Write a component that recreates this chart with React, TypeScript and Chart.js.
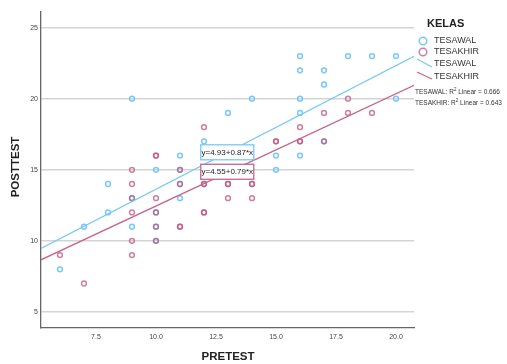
import React, { useEffect, useRef } from "react";
import { Chart, registerables } from "chart.js";

Chart.register(...registerables);

// TESAWAL (blue)
const tesawalPre = [6, 7, 8, 8, 9, 9, 9, 10, 10, 10, 10, 11, 11, 11, 11, 12, 13, 14, 15, 15, 16, 16, 16, 16, 16, 17, 17, 17, 18, 19, 20, 20];
const tesawalPost = [8, 11, 12, 14, 11, 13, 20, 10, 11, 12, 15, 13, 14, 15, 16, 17, 19, 20, 15, 16, 16, 19, 20, 22, 23, 17, 21, 22, 23, 23, 20, 23];
// TESAKHIR (pink)
const tesakhirPre = [6, 7, 9, 9, 9, 9, 9, 9, 10, 10, 10, 10, 10, 10, 11, 11, 11, 11, 12, 12, 12, 12, 12, 13, 13, 13, 14, 14, 14, 15, 15, 16, 16, 16, 17, 17, 18, 18, 19];
const tesakhirPost = [9, 7, 9, 10, 12, 13, 14, 15, 10, 11, 12, 13, 16, 16, 11, 11, 14, 15, 12, 12, 14, 14, 18, 13, 14, 14, 13, 14, 14, 17, 17, 17, 17, 18, 17, 19, 19, 20, 19];

// regression fits [intercept, slope]
const fitAwal = [4.93, 0.87];
const fitAkhir = [4.55, 0.79];
const r2Awal = "0.666";
const r2Akhir = "0.643";

const xTicks = [7.5, 10, 12.5, 15, 17.5, 20];
const yTicks = [5, 10, 15, 20, 25];
const X_MIN = 5.21;
const X_MAX = 20.75;
const Y_MIN = 3.87;
const Y_MAX = 26.1;

const BLUE = "rgba(105,195,245,0.9)";
const PINK = "rgba(190,85,130,0.75)";
const BLUE_LINE = "rgb(120,200,245)";
const PINK_LINE = "rgb(200,100,140)";
const FONT = "'Liberation Sans', Arial, sans-serif";

const toPts = (xs: number[], ys: number[]) => xs.map((x, i) => ({ x, y: ys[i] }));
const fitLine = (f: number[]) => [
  { x: X_MIN, y: f[0] + f[1] * X_MIN },
  { x: X_MAX, y: f[0] + f[1] * X_MAX },
];

const overlay = {
  id: "overlay",
  afterDraw(chart: any) {
    const ctx = chart.ctx as CanvasRenderingContext2D;
    const xs = chart.scales.x;
    const ys = chart.scales.y;
    const ca = chart.chartArea;
    ctx.save();
    // equation boxes
    const box = (txt: string, dx: number, dy: number, col: string) => {
      const cx = xs.getPixelForValue(dx);
      const cy = ys.getPixelForValue(dy);
      ctx.font = `8px ${FONT}`;
      const w = 53;
      const h = 15;
      ctx.fillStyle = "#fff";
      ctx.fillRect(cx - w / 2, cy - h / 2, w, h);
      ctx.strokeStyle = col;
      ctx.lineWidth = 1.3;
      ctx.strokeRect(cx - w / 2, cy - h / 2, w, h);
      ctx.fillStyle = "#222";
      ctx.textAlign = "center";
      ctx.textBaseline = "middle";
      ctx.fillText(txt, cx, cy + 0.5);
    };
    box(`y=${fitAwal[0]}+${fitAwal[1]}*x`, 12.97, 16.23, BLUE_LINE);
    box(`y=${fitAkhir[0]}+${fitAkhir[1]}*x`, 12.97, 14.86, PINK_LINE);

    // axis titles
    ctx.fillStyle = "#222";
    ctx.font = `bold 11.5px ${FONT}`;
    ctx.textAlign = "center";
    ctx.textBaseline = "middle";
    ctx.fillText("PRETEST", 228, 357);
    ctx.save();
    ctx.translate(16, 167);
    ctx.rotate(-Math.PI / 2);
    ctx.fillText("POSTTEST", 0, 0);
    ctx.restore();

    // legend
    const lx = ca.right + 9;
    ctx.textAlign = "left";
    ctx.font = `bold 11px ${FONT}`;
    ctx.fillText("KELAS", lx + 4, 24);
    ctx.font = `9px ${FONT}`;
    ctx.fillStyle = "#333";
    ctx.lineWidth = 1.5;
    ctx.strokeStyle = BLUE;
    ctx.beginPath();
    ctx.arc(lx, 41, 3.8, 0, Math.PI * 2);
    ctx.stroke();
    ctx.fillText("TESAWAL", lx + 11, 41);
    ctx.strokeStyle = PINK;
    ctx.beginPath();
    ctx.arc(lx, 52, 3.8, 0, Math.PI * 2);
    ctx.stroke();
    ctx.fillText("TESAKHIR", lx + 11, 52);
    ctx.lineWidth = 1.3;
    ctx.strokeStyle = BLUE_LINE;
    ctx.beginPath();
    ctx.moveTo(lx - 6, 59);
    ctx.lineTo(lx + 9, 67);
    ctx.stroke();
    ctx.fillText("TESAWAL", lx + 11, 64);
    ctx.strokeStyle = PINK_LINE;
    ctx.beginPath();
    ctx.moveTo(lx - 6, 72);
    ctx.lineTo(lx + 9, 79);
    ctx.stroke();
    ctx.fillText("TESAKHIR", lx + 11, 77);
    // R2
    const r2 = (label: string, val: string, y: number) => {
      ctx.font = `6.5px ${FONT}`;
      let x = ca.right + 1;
      const a = `${label}: R`;
      ctx.fillText(a, x, y);
      x += ctx.measureText(a).width;
      ctx.font = `4.5px ${FONT}`;
      ctx.fillText("2", x, y - 2);
      x += ctx.measureText("2").width;
      ctx.font = `6.5px ${FONT}`;
      ctx.fillText(` Linear = ${val}`, x, y);
    };
    r2("TESAWAL", r2Awal, 92);
    r2("TESAKHIR", r2Akhir, 103);
    ctx.restore();
  },
};

export default function App() {
  const ref = useRef<HTMLCanvasElement>(null);
  useEffect(() => {
    if (!ref.current) return;
    const chart = new Chart(ref.current, {
      type: "scatter",
      data: {
        datasets: [
          {
            type: "line",
            label: "fit awal",
            data: fitLine(fitAwal),
            borderColor: BLUE_LINE,
            borderWidth: 1.3,
            pointRadius: 0,
            fill: false,
          },
          {
            type: "line",
            label: "fit akhir",
            data: fitLine(fitAkhir),
            borderColor: PINK_LINE,
            borderWidth: 1.3,
            pointRadius: 0,
            fill: false,
          },
          {
            label: "TESAKHIR",
            data: toPts(tesakhirPre, tesakhirPost),
            borderColor: PINK,
            backgroundColor: "rgba(0,0,0,0)",
            pointRadius: 2.4,
            pointBorderWidth: 1.5,
          },
          {
            label: "TESAWAL",
            data: toPts(tesawalPre, tesawalPost),
            borderColor: BLUE,
            backgroundColor: "rgba(0,0,0,0)",
            pointRadius: 2.4,
            pointBorderWidth: 1.5,
          },
        ] as any,
      },
      options: {
        animation: false,
        responsive: false,
        layout: { padding: { left: 0, top: 12, right: 93, bottom: 0 } },
        plugins: { legend: { display: false }, tooltip: { enabled: false } },
        scales: {
          x: {
            type: "linear",
            min: X_MIN,
            max: X_MAX,
            afterBuildTicks: (s: any) => {
              s.ticks = xTicks.map((v) => ({ value: v }));
            },
            afterFit: (s: any) => {
              s.height = 36;
            },
            ticks: {
              font: { size: 7, family: FONT },
              color: "#444",
              padding: 5,
              maxRotation: 0,
              callback: (v: any) => Number(v).toFixed(1),
            },
            grid: { display: false, drawTicks: false },
            border: { display: true, color: "#666", width: 1.3 },
          },
          y: {
            type: "linear",
            min: Y_MIN,
            max: Y_MAX,
            afterBuildTicks: (s: any) => {
              s.ticks = yTicks.map((v) => ({ value: v }));
            },
            afterFit: (s: any) => {
              s.width = 41;
            },
            ticks: {
              font: { size: 7, family: FONT },
              color: "#444",
              padding: 3,
            },
            grid: { color: "#d4d4d4", lineWidth: 1.4, drawTicks: false },
            border: { display: true, color: "#666", width: 1.3 },
          },
        },
      },
      plugins: [overlay],
    });
    return () => chart.destroy();
  }, []);
  return (
    <div style={{ position: "fixed", left: 0, top: 0, width: 507, height: 364, background: "#fff" }}>
      <canvas ref={ref} width={507} height={364} style={{ width: 507, height: 364 }} />
    </div>
  );
}
